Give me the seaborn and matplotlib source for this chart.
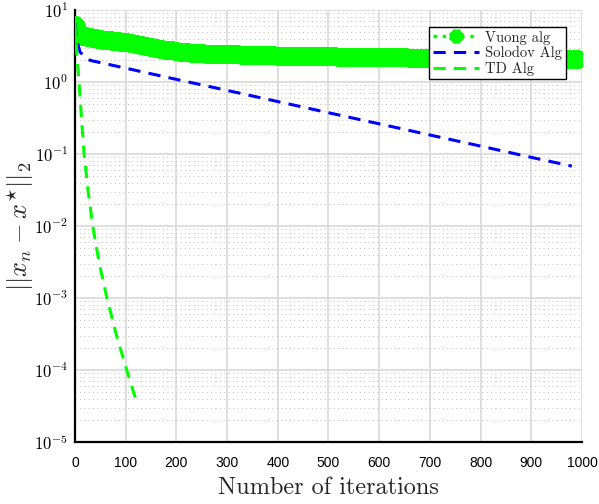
import numpy as np
import pandas as pd
import seaborn as sns
import matplotlib
matplotlib.use('Agg')
import matplotlib.pyplot as plt
from matplotlib.ticker import LogLocator, NullFormatter, FuncFormatter

# ---- data ----
vuong_iter = [0, 2, 4, 6, 8, 10, 15, 20, 25, 30, 35, 40, 45, 50, 55, 60, 65, 70, 75, 80, 85, 90, 95, 100,
              110, 120, 130, 140, 150, 160, 170, 180, 190, 200,
              210, 220, 230, 240, 250, 260, 270, 280, 290, 300,
              310, 320, 330, 340, 350, 360, 370, 380, 390, 400,
              410, 420, 430, 440, 450, 460, 470, 480, 490, 500,
              510, 520, 530, 540, 550, 560, 570, 580, 590, 600,
              610, 620, 630, 640, 650, 660, 670, 680, 690, 700,
              710, 720, 730, 740, 750, 760, 770, 780, 790, 800,
              810, 820, 830, 840, 850, 860, 870, 880, 890, 900,
              910, 920, 930, 940, 950, 960, 970, 980, 990]
vuong_err = [6.3, 5.8, 5.2, 4.8, 4.6, 4.5, 4.4, 4.3, 4.25, 4.2, 4.12, 4.05, 4.0, 3.95, 3.9, 3.85, 3.82, 3.8, 3.76, 3.72, 3.68, 3.65, 3.62, 3.6,
             3.5, 3.4, 3.3, 3.2, 3.1, 3.0, 2.9, 2.82, 2.75, 2.69,
             2.64, 2.6, 2.56, 2.53, 2.5, 2.48, 2.47, 2.46, 2.45, 2.44,
             2.43, 2.42, 2.4, 2.39, 2.38, 2.37, 2.36, 2.35, 2.34, 2.33,
             2.33, 2.32, 2.32, 2.31, 2.31, 2.3, 2.29, 2.28, 2.28, 2.27,
             2.27, 2.26, 2.26, 2.25, 2.25, 2.24, 2.24, 2.23, 2.23, 2.22,
             2.22, 2.21, 2.21, 2.2, 2.2, 2.19, 2.18, 2.17, 2.17, 2.16,
             2.16, 2.15, 2.15, 2.15, 2.14, 2.14, 2.13, 2.13, 2.12, 2.12,
             2.12, 2.12, 2.11, 2.11, 2.11, 2.11, 2.1, 2.1, 2.1, 2.1,
             2.09, 2.09, 2.09, 2.09, 2.08, 2.08, 2.08, 2.08, 2.08]

solodov_iter = [0, 5, 10, 20, 30, 100, 200, 300, 400, 500, 600, 700, 800, 900, 980]
solodov_err = [6.6, 3.5, 2.6, 2.25, 2.0, 1.56, 1.09, 0.766, 0.536, 0.375,
               0.263, 0.184, 0.129, 0.090, 0.068]

td_iter = [0, 4, 8, 13, 18, 26, 35, 48, 63, 82, 102, 122]
td_err = [6.6, 2.2, 1.0, 0.3, 0.1, 0.03, 0.01, 3e-3, 1e-3, 3e-4, 1e-4, 3.5e-5]

x_ticks = list(range(0, 1001, 100))

sns.set_style('white')
plt.rcParams['font.family'] = ['Liberation Sans', 'DejaVu Sans']
plt.rcParams['mathtext.fontset'] = 'cm'
plt.rcParams['axes.unicode_minus'] = False

fig = plt.figure(figsize=(5.99, 5.04), dpi=100)
ax = fig.add_axes([0.1252, 0.123, 0.8464, 0.857])

green = '#00ff00'
blue = '#0000ff'

sns.lineplot(x=vuong_iter, y=vuong_err, ax=ax, color=green, linestyle=':',
             linewidth=2.5, marker=(8, 2, 0), markersize=13, markeredgewidth=4.5,
             markeredgecolor=green, label='Vuong alg', estimator=None, zorder=3)
sns.lineplot(x=solodov_iter, y=solodov_err, ax=ax, color=blue,
             linestyle=(0, (4, 2.7)), linewidth=2.2, label='Solodov Alg',
             estimator=None, zorder=4)
sns.lineplot(x=td_iter, y=td_err, ax=ax, color=green,
             linestyle=(0, (4, 2.7)), linewidth=2.2, label='TD Alg',
             estimator=None, zorder=4)

ax.set_yscale('log')
ax.set_xlim(0, 1000)
ax.set_ylim(1e-5, 1e1)
ax.set_xticks(x_ticks)
ax.yaxis.set_major_locator(LogLocator(base=10, numticks=10))
ax.yaxis.set_major_formatter(FuncFormatter(lambda v, p: r'$\mathsf{10^{%d}}$' % round(np.log10(v))))
ax.yaxis.set_minor_locator(LogLocator(base=10, subs=np.arange(2, 10), numticks=20))
ax.yaxis.set_minor_formatter(NullFormatter())

ax.grid(which='major', axis='both', color='#d9d9d9', linewidth=1.2, linestyle='-')
ax.grid(which='minor', axis='y', color='#bdbdbd', linewidth=0.7, linestyle=(0, (1, 3.5)))
ax.set_axisbelow(True)

for s in ['top', 'right']:
    ax.spines[s].set_visible(False)
for s in ['left', 'bottom']:
    ax.spines[s].set_color('k')
    ax.spines[s].set_linewidth(1.6)

ax.tick_params(which='major', direction='in', length=5, width=1.4, colors='k')
ax.tick_params(axis='x', which='major', pad=10, labelsize=10)
ax.tick_params(axis='y', which='major', pad=5, labelsize=12)
ax.tick_params(which='minor', direction='in', length=3, width=1.0, colors='k')

ax.set_xlabel('Number of iterations', fontsize=17.5, family='cmr10', labelpad=5)
ax.set_ylabel(r'$||x_n - x^{\star}||_2$', fontsize=19)
ax.yaxis.set_label_coords(-0.077, 0.5)

leg = ax.legend(loc='upper right', bbox_to_anchor=(0.968, 0.961), borderaxespad=0,
                fancybox=False, framealpha=1, edgecolor='k', handlelength=3.2,
                prop={'family': 'cmr10', 'size': 10.5}, borderpad=0.25,
                labelspacing=0.1, handletextpad=0.4, markerscale=0.75)
leg.get_frame().set_linewidth(1.0)

fig.savefig('out.png', dpi=100)
